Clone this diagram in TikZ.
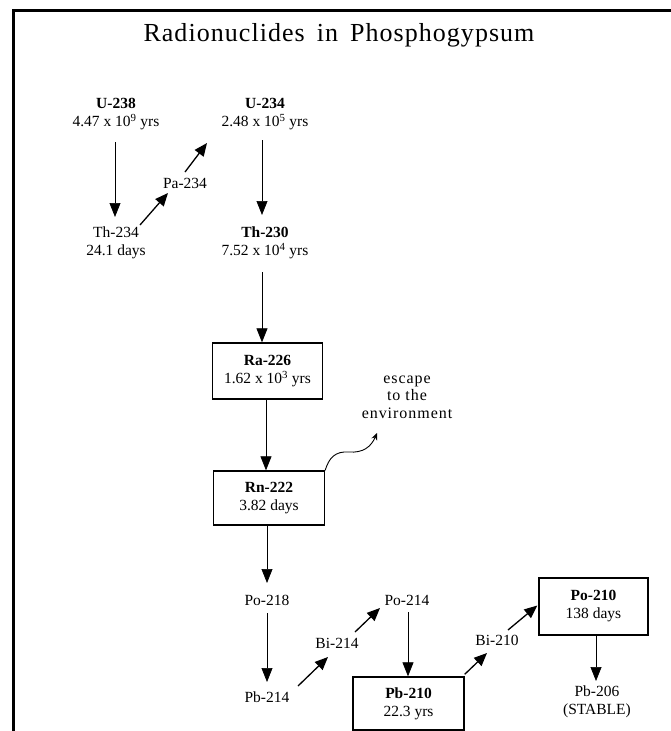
\documentclass[tikz,border=0pt]{standalone}
\usepackage{fontspec}
\setmainfont{Liberation Serif}
\usetikzlibrary{arrows.meta,calc}
\begin{document}
\begin{tikzpicture}[x=1pt,y=-1pt,
  nuc/.style={font=\fontsize{15.5}{18}\selectfont, align=center, inner sep=0pt},
  decaybox/.style={nuc, draw, line width=1.3pt, minimum width=#1},
  decaybox/.default=110pt,
  fall/.style={-{Triangle[length=14pt,width=11pt]}, line width=0.7pt},
  climb/.style={-{Triangle[length=13pt,width=11pt]}, line width=1.3pt},
  frameline/.style={line width=3pt}
]
\useasboundingbox (0,0) rectangle (671,731);

% page frame (left and top rules)
\draw[frameline] (13.5,731) -- (13.5,10.5) -- (671,10.5);

% title
\node (title) at (339,35) {\fontsize{26}{30}\selectfont\addfontfeature{LetterSpace=4}Radionuclides\hspace{12pt}in\hspace{12pt}Phosphogypsum};

% uranium series, top part
\node[nuc] (u238)  at (116,114) {\textbf{U-238}\\4.47 x 10\textsuperscript{9} yrs};
\node[nuc] (u234)  at (265,114) {\textbf{U-234}\\2.48 x 10\textsuperscript{5} yrs};
\node[nuc] (th234) at (116,243) {Th-234\\24.1 days};
\node[nuc] (pa234) at (185,183) {Pa-234};
\node[nuc] (th230) at (265,243) {\textbf{Th-230}\\7.52 x 10\textsuperscript{4} yrs};

% boxed members
\node[decaybox, minimum height=56pt] (ra226) at (267.5,371) {\textbf{Ra-226}\\1.62 x 10\textsuperscript{3} yrs};
\node[decaybox=111pt, minimum height=54pt] (rn222) at (269,498) {\textbf{Rn-222}\\3.82 days};
\node[decaybox=111pt, minimum height=53pt] (pb210) at (408.5,703.5) {\textbf{Pb-210}\\22.3 yrs};
\node[decaybox=109pt, minimum height=57pt] (po210) at (593.5,606.5) {\textbf{Po-210}\\138 days};

% short-lived daughters
\node[nuc] (po218) at (267,600) {Po-218};
\node[nuc] (pb214) at (267,697) {Pb-214};
\node[nuc] (bi214) at (337,643) {Bi-214};
\node[nuc] (po214) at (407,600) {Po-214};
\node[nuc] (bi210) at (497,640) {Bi-210};
\node[nuc] (pb206) at (597,702) {Pb-206\\(STABLE)};

% radon release
\node[align=center, font=\fontsize{16}{17.5}\selectfont\addfontfeature{LetterSpace=6}] (escape) at (407,397) {escape\\to the\\environment};
\coordinate (esc) at (377,433);
\draw[-{Stealth[length=7pt,width=6pt]}, line width=0.9pt]
  (rn222.north east) .. controls (329,458) and (335,451) .. (349,452)
  .. controls (363,453) and (371,447) .. (esc);

% decay chain connectors
\draw[fall]  ($(u238)+(-1,28)$)  -- ($(th234)+(-1,-26)$);
\draw[climb] ($(th234)+(24,-18)$) -- ($(pa234)+(-17,10)$);
\draw[climb] ($(pa234)+(0,-11)$) -- ($(u234)+(-58,29)$);
\draw[fall]  ($(u234)+(-3,26)$)  -- ($(th230)+(-3,-28)$);
\draw[fall]  ($(th230)+(-3,29)$) -- ($(ra226.north)+(-5.5,0)$);
\draw[fall]  ($(ra226.south)+(-1.5,0)$) -- ($(rn222.north)+(-3,0)$);
\draw[fall]  ($(rn222.south)+(-2,0)$) -- ($(po218)+(0,-17)$);
\draw[fall]  ($(po218)+(0,13)$)  -- ($(pb214)+(0,-15)$);
\draw[climb] ($(pb214)+(31,-11)$) -- ($(bi214)+(-9,14)$);
\draw[climb] ($(bi214)+(18,-11)$) -- ($(po214)+(-27,8)$);
\draw[fall]  ($(po214)+(1,12)$)  -- ($(pb210.north)+(-0.5,0)$);
\draw[climb] ($(pb210.north east)+(0,-2)$) -- ($(bi210)+(-10,13)$);
\draw[climb] ($(bi210)+(11,-10)$) -- ($(po210.west)+(-1,-1)$);
\draw[fall]  ($(po210.south)+(2.5,0)$) -- ($(pb206)+(-1,-21)$);
\end{tikzpicture}
\end{document}
